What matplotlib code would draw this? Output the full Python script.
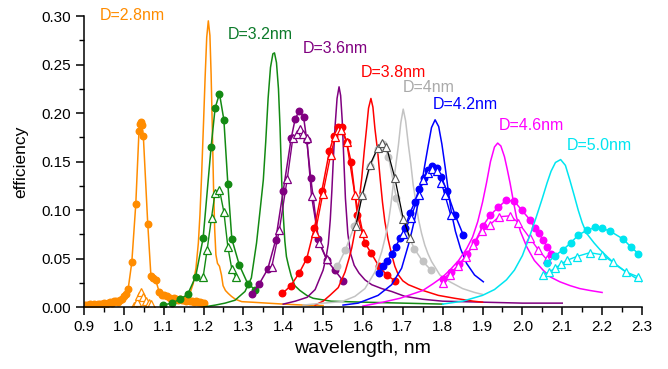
import matplotlib
matplotlib.use("Agg")
import matplotlib.pyplot as plt
from matplotlib.ticker import MultipleLocator

plt.rcParams['font.family'] = ['Liberation Sans', 'DejaVu Sans']

# ---- D=2.8nm (orange) ----
x28_dot = [0.90, 0.905, 0.91, 0.915, 0.92, 0.925, 0.93, 0.935, 0.94, 0.945, 0.95, 0.955, 0.96, 0.965,
           0.97, 0.975, 0.98, 0.985, 0.99, 0.995, 1.000, 1.005, 1.011, 1.020, 1.030, 1.038, 1.041,
           1.043, 1.045, 1.049, 1.060, 1.068, 1.074, 1.080, 1.089, 1.095, 1.101, 1.109, 1.115, 1.12,
           1.125, 1.13, 1.135, 1.14, 1.145, 1.15, 1.155, 1.16, 1.165, 1.17, 1.175, 1.18, 1.185, 1.19,
           1.195, 1.20]
y28_dot = [0.002, 0.002, 0.002, 0.003, 0.002, 0.003, 0.002, 0.003, 0.003, 0.003, 0.004, 0.003, 0.004, 0.005,
           0.004, 0.006, 0.006, 0.005, 0.007, 0.008, 0.011, 0.013, 0.019, 0.046, 0.106, 0.181, 0.189,
           0.191, 0.188, 0.176, 0.086, 0.032, 0.030, 0.028, 0.015, 0.012, 0.012, 0.011, 0.009, 0.008,
           0.009, 0.008, 0.007, 0.008, 0.007, 0.007, 0.006, 0.007, 0.006, 0.006, 0.005, 0.006, 0.005, 0.005,
           0.004, 0.004]
x28_tri = [1.025, 1.032, 1.038, 1.043, 1.049, 1.055, 1.062, 1.068]
y28_tri = [0.001, 0.005, 0.011, 0.015, 0.010, 0.006, 0.004, 0.003]
x28_th = [1.12, 1.14, 1.155, 1.165, 1.174, 1.181, 1.187, 1.191, 1.195, 1.200, 1.204, 1.208, 1.212, 1.216,
          1.219, 1.222, 1.225, 1.228, 1.231, 1.235, 1.240, 1.245, 1.249, 1.255, 1.262, 1.270, 1.280,
          1.296, 1.32, 1.36, 1.40, 1.45, 1.50]
y28_th = [0.005, 0.007, 0.009, 0.013, 0.024, 0.040, 0.066, 0.095, 0.134, 0.190, 0.237, 0.278, 0.295, 0.280,
          0.240, 0.185, 0.125, 0.080, 0.054, 0.045, 0.042, 0.033, 0.022, 0.017, 0.014, 0.011, 0.008,
          0.0055, 0.005, 0.004, 0.003, 0.002, 0.0015]

# ---- D=3.2nm (green) ----
x32_dot = [1.099, 1.120, 1.141, 1.160, 1.180, 1.199, 1.219, 1.229, 1.240, 1.251, 1.261, 1.271, 1.290, 1.311, 1.329]
y32_dot = [0.002, 0.004, 0.008, 0.013, 0.031, 0.071, 0.165, 0.205, 0.220, 0.193, 0.127, 0.070, 0.043, 0.024, 0.018]
x32_tri = [1.199, 1.209, 1.220, 1.229, 1.240, 1.251, 1.261, 1.271, 1.281]
y32_tri = [0.031, 0.059, 0.092, 0.118, 0.121, 0.098, 0.062, 0.039, 0.031]
x32_th = [1.20, 1.23, 1.254, 1.279, 1.304, 1.32, 1.333, 1.342, 1.350, 1.356, 1.362, 1.368, 1.374, 1.378,
          1.383, 1.388, 1.392, 1.396, 1.400, 1.404, 1.408, 1.413, 1.420, 1.429, 1.442, 1.459, 1.475,
          1.52, 1.6, 1.7, 1.8]
y32_th = [0.0, 0.002, 0.004, 0.007, 0.016, 0.030, 0.066, 0.100, 0.131, 0.170, 0.215, 0.247, 0.261, 0.262,
          0.252, 0.225, 0.185, 0.131, 0.095, 0.068, 0.052, 0.043, 0.032, 0.022, 0.017, 0.012, 0.009,
          0.006, 0.005, 0.004, 0.003]

# ---- D=3.6nm (purple) ----
x36_dot = [1.321, 1.340, 1.361, 1.381, 1.400, 1.420, 1.430, 1.440, 1.451, 1.459, 1.469, 1.488, 1.510, 1.529, 1.550]
y36_dot = [0.013, 0.024, 0.039, 0.069, 0.120, 0.174, 0.194, 0.202, 0.196, 0.172, 0.133, 0.070, 0.048, 0.038, 0.027]
x36_tri = [1.371, 1.390, 1.410, 1.424, 1.435, 1.442, 1.449, 1.459, 1.471, 1.490, 1.509]
y36_tri = [0.041, 0.079, 0.132, 0.174, 0.178, 0.184, 0.178, 0.174, 0.114, 0.066, 0.049]
x36_th = [1.40, 1.43, 1.46, 1.48, 1.50, 1.507, 1.513, 1.518, 1.522, 1.526, 1.530, 1.535, 1.540, 1.544,
          1.548, 1.552, 1.556, 1.562, 1.569, 1.578, 1.590, 1.605, 1.622, 1.647, 1.672, 1.705, 1.75,
          1.80, 1.9, 2.0, 2.1]
y36_th = [0.003, 0.006, 0.010, 0.018, 0.038, 0.050, 0.065, 0.090, 0.120, 0.155, 0.186, 0.215, 0.227, 0.218,
          0.192, 0.152, 0.112, 0.076, 0.055, 0.043, 0.035, 0.028, 0.023, 0.019, 0.016, 0.011, 0.008,
          0.006, 0.005, 0.004, 0.004]

# ---- D=3.8nm (red) ----
x38_dot = [1.398, 1.419, 1.440, 1.459, 1.478, 1.497, 1.516, 1.527, 1.538, 1.547, 1.559, 1.570, 1.586, 1.605,
           1.620, 1.640, 1.660, 1.680]
y38_dot = [0.014, 0.022, 0.035, 0.050, 0.081, 0.120, 0.161, 0.176, 0.186, 0.186, 0.170, 0.150, 0.095, 0.066,
           0.056, 0.042, 0.033, 0.027]
x38_tri = [1.480, 1.499, 1.519, 1.530, 1.538, 1.546, 1.559, 1.580, 1.600]
y38_tri = [0.076, 0.116, 0.157, 0.175, 0.183, 0.183, 0.170, 0.115, 0.076]
x38_th = [1.48, 1.50, 1.517, 1.538, 1.555, 1.565, 1.572, 1.578, 1.584, 1.590, 1.597, 1.603, 1.609, 1.614,
          1.620, 1.625, 1.630, 1.637, 1.643, 1.649, 1.655, 1.663, 1.672, 1.680, 1.689, 1.700, 1.714,
          1.747, 1.789, 1.83, 1.877, 1.90]
y38_th = [0.002, 0.006, 0.012, 0.020, 0.036, 0.050, 0.061, 0.074, 0.088, 0.108, 0.133, 0.160, 0.184, 0.205,
          0.215, 0.206, 0.184, 0.160, 0.133, 0.108, 0.088, 0.070, 0.054, 0.042, 0.033, 0.027, 0.023,
          0.0175, 0.012, 0.009, 0.006, 0.005]

# ---- D=4nm (gray / black) ----
x40_dot = [1.536, 1.556, 1.578, 1.598, 1.618, 1.637, 1.650, 1.664, 1.684, 1.706, 1.729, 1.750, 1.771]
y40_dot = [0.042, 0.059, 0.083, 0.114, 0.145, 0.163, 0.168, 0.155, 0.112, 0.081, 0.060, 0.047, 0.038]
x40_tri = [1.582, 1.598, 1.617, 1.637, 1.649, 1.659, 1.680, 1.701, 1.718]
y40_tri = [0.083, 0.115, 0.146, 0.164, 0.169, 0.165, 0.133, 0.091, 0.071]
x40_th = [1.45, 1.50, 1.547, 1.580, 1.605, 1.630, 1.647, 1.656, 1.664, 1.670, 1.676, 1.683, 1.689, 1.695,
          1.701, 1.707, 1.714, 1.720, 1.726, 1.733, 1.739, 1.747, 1.755, 1.763, 1.772, 1.793, 1.818,
          1.85, 1.88, 1.90]
y40_th = [0.002, 0.004, 0.0055, 0.011, 0.019, 0.036, 0.057, 0.072, 0.088, 0.105, 0.126, 0.148, 0.167, 0.190,
          0.204, 0.192, 0.167, 0.148, 0.126, 0.108, 0.091, 0.076, 0.064, 0.055, 0.047, 0.033, 0.026,
          0.019, 0.015, 0.013]

# ---- D=4.2nm (blue) ----
x42_dot = [1.640, 1.651, 1.661, 1.672, 1.682, 1.693, 1.705, 1.718, 1.730, 1.741, 1.752, 1.762, 1.772, 1.785,
           1.797, 1.810, 1.831, 1.852]
y42_dot = [0.035, 0.042, 0.047, 0.055, 0.062, 0.071, 0.081, 0.097, 0.108, 0.122, 0.133, 0.141, 0.145, 0.143,
           0.134, 0.120, 0.095, 0.074]
x42_tri = [1.700, 1.720, 1.740, 1.751, 1.762, 1.772, 1.785, 1.797, 1.806, 1.820]
y42_tri = [0.075, 0.092, 0.115, 0.131, 0.138, 0.142, 0.140, 0.128, 0.115, 0.095]
x42_th = [1.55, 1.588, 1.638, 1.672, 1.697, 1.714, 1.722, 1.730, 1.739, 1.747, 1.755, 1.764, 1.772, 1.781,
          1.790, 1.798, 1.806, 1.814, 1.822, 1.832, 1.845, 1.86, 1.88, 1.902]
y42_th = [0.002, 0.004, 0.012, 0.023, 0.040, 0.064, 0.077, 0.091, 0.108, 0.126, 0.146, 0.167, 0.185, 0.193,
          0.186, 0.168, 0.145, 0.120, 0.097, 0.078, 0.060, 0.045, 0.033, 0.026]

# ---- D=4.6nm (magenta) ----
x46_dot = [1.801, 1.822, 1.842, 1.862, 1.881, 1.900, 1.920, 1.940, 1.959, 1.980, 1.998, 2.019, 2.031, 2.041,
           2.052, 2.062, 2.073]
y46_dot = [0.029, 0.036, 0.044, 0.055, 0.067, 0.083, 0.095, 0.103, 0.110, 0.109, 0.100, 0.090, 0.081, 0.076,
           0.069, 0.062, 0.055]
x46_tri = [1.800, 1.818, 1.838, 1.858, 1.877, 1.898, 1.919, 1.941, 1.969, 1.990, 2.019, 2.040, 2.061]
y46_tri = [0.025, 0.033, 0.042, 0.052, 0.064, 0.078, 0.085, 0.093, 0.094, 0.087, 0.071, 0.059, 0.049]
x46_th = [1.60, 1.65, 1.693, 1.75, 1.776, 1.80, 1.818, 1.84, 1.86, 1.875, 1.888, 1.90, 1.91, 1.92, 1.93,
          1.938, 1.946, 1.955, 1.962, 1.969, 1.977, 1.985, 1.995, 2.011, 2.03, 2.052, 2.07, 2.094,
          2.12, 2.144, 2.17, 2.20]
y46_th = [0.001, 0.005, 0.009, 0.017, 0.024, 0.031, 0.038, 0.048, 0.060, 0.072, 0.088, 0.108, 0.128, 0.150,
          0.165, 0.169, 0.166, 0.155, 0.142, 0.128, 0.110, 0.093, 0.078, 0.062, 0.048, 0.038, 0.031,
          0.026, 0.022, 0.019, 0.017, 0.015]

# ---- D=5.0nm (cyan) ----
x50_dot = [2.062, 2.082, 2.102, 2.121, 2.140, 2.161, 2.182, 2.201, 2.221, 2.253, 2.272, 2.291]
y50_dot = [0.045, 0.053, 0.059, 0.066, 0.074, 0.079, 0.082, 0.081, 0.078, 0.070, 0.062, 0.055]
x50_tri = [2.051, 2.066, 2.082, 2.096, 2.111, 2.136, 2.169, 2.199, 2.228, 2.261, 2.291]
y50_tri = [0.033, 0.036, 0.040, 0.044, 0.048, 0.052, 0.056, 0.054, 0.046, 0.036, 0.031]
x50_th = [1.80, 1.85, 1.90, 1.93, 1.96, 1.98, 2.00, 2.02, 2.035, 2.05, 2.062, 2.072, 2.083, 2.096, 2.108,
          2.119, 2.13, 2.14, 2.15, 2.161, 2.18, 2.195, 2.215, 2.236, 2.26, 2.28, 2.30]
y50_th = [0.003, 0.006, 0.012, 0.018, 0.028, 0.038, 0.053, 0.075, 0.093, 0.112, 0.128, 0.140, 0.149, 0.152,
          0.146, 0.131, 0.115, 0.100, 0.087, 0.076, 0.066, 0.059, 0.051, 0.043, 0.036, 0.031, 0.026]

labels = ['D=2.8nm', 'D=3.2nm', 'D=3.6nm', 'D=3.8nm', 'D=4nm', 'D=4.2nm', 'D=4.6nm', 'D=5.0nm']
label_x = [0.940, 1.261, 1.449, 1.595, 1.700, 1.776, 1.941, 2.112]
label_y = [0.301, 0.281, 0.266, 0.242, 0.226, 0.209, 0.187, 0.166]
label_c = ['#FF8C00', '#0B7A2A', '#800080', '#FF0000', '#AAAAAA', '#0000FF', '#FF00FF', '#00E5F0']

fig = plt.figure(figsize=(6.68, 3.69), dpi=100)
ax = fig.add_axes([0.1257, 0.168, 0.8353, 0.7886])

# (colour, theory x/y, dots x/y, triangles x/y)
sets = [
    ('#FF8C00', x28_th, y28_th, x28_dot, y28_dot, x28_tri, y28_tri),
    ('#138A13', x32_th, y32_th, x32_dot, y32_dot, x32_tri, y32_tri),
    ('#800080', x36_th, y36_th, x36_dot, y36_dot, x36_tri, y36_tri),
    ('#FF0000', x38_th, y38_th, x38_dot, y38_dot, x38_tri, y38_tri),
    ('#C3C3C3', x40_th, y40_th, x40_dot, y40_dot, None, None),
    ('#0000FF', x42_th, y42_th, x42_dot, y42_dot, x42_tri, y42_tri),
    ('#FF00FF', x46_th, y46_th, x46_dot, y46_dot, x46_tri, y46_tri),
    ('#00E5F0', x50_th, y50_th, x50_dot, y50_dot, x50_tri, y50_tri),
]

for c, xt, yt, xd, yd, xtr, ytr in sets:
    ax.plot(xt, yt, color=c, lw=1.1)
    ax.plot(xd, yd, color=c, lw=1.1, marker='o', ms=4.7, mec=c, mfc=c)
    if xtr is not None:
        ax.plot(xtr, ytr, color=c, lw=1.0, marker='^', ms=5.5, mfc='white', mec=c, mew=0.9)

# black line with triangles for D=4nm
ax.plot(x40_tri, y40_tri, color='black', lw=0.9, marker='^', ms=5.5, mfc='white', mec='#555555', mew=0.8)

for t, tx, ty, c in zip(labels, label_x, label_y, label_c):
    ax.text(tx, ty, t, color=c, fontsize=11.5, ha='left', va='center', clip_on=False)

ax.set_xlim(0.9, 2.3)
ax.set_ylim(0, 0.30)
ax.xaxis.set_major_locator(MultipleLocator(0.1))
ax.xaxis.set_minor_locator(MultipleLocator(0.05))
ax.yaxis.set_major_locator(MultipleLocator(0.05))
ax.yaxis.set_minor_locator(MultipleLocator(0.025))
ax.xaxis.set_major_formatter(plt.FormatStrFormatter('%.1f'))
ax.yaxis.set_major_formatter(plt.FormatStrFormatter('%.2f'))
ax.tick_params(which='major', direction='out', length=6, width=1.1, labelsize=11)
ax.tick_params(which='minor', direction='out', length=3.5, width=1.0)
ax.spines['top'].set_visible(False)
ax.spines['right'].set_visible(False)
ax.spines['left'].set_linewidth(1.1)
ax.spines['bottom'].set_linewidth(1.1)

ax.set_xlabel('wavelength, nm', fontsize=14)
ax.set_ylabel('efficiency', fontsize=12.5, labelpad=9)

fig.savefig('out.png', dpi=100)
